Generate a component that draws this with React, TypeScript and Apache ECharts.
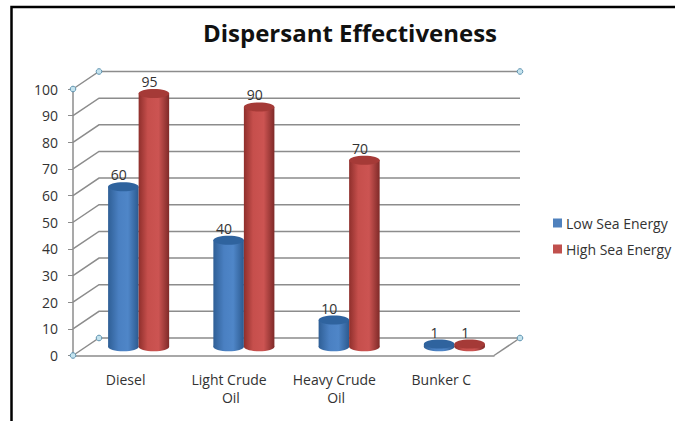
import React, { useEffect, useRef } from "react";
import * as echarts from "echarts";

const categories = ["Diesel", "Light Crude Oil", "Heavy Crude Oil", "Bunker C"];
const lowSeaEnergy = [60, 40, 10, 1];
const highSeaEnergy = [95, 90, 70, 1];
const wallTicks = [0, 10, 20, 30, 40, 50, 60, 70, 80, 90, 100];

const FONT = "'Open Sans', Lato, sans-serif";
const DEPTH_X = 26;
const DEPTH_Y = 17.5;
const AXIS_COLOR = "#8c8c8c";
const TEXT_COLOR = "#333333";

const gradient = (stops: [number, string][]) =>
  new echarts.graphic.LinearGradient(
    0, 0, 1, 0,
    stops.map(([offset, color]) => ({ offset, color }))
  );

// Cylinder standing on the middle of the floor, with its value above the cap.
const cylinder = (side: -1 | 1, body: [number, string][], cap: string) =>
  (_params: any, api: any) => {
    const [cx, topFront] = api.coord([api.value(0), api.value(1)]);
    const [, baseFront] = api.coord([api.value(0), 0]);
    const w = api.size([1, 0])[0] * 0.29;
    const x = cx + DEPTH_X / 2 + (side * w) / 2;
    const top = topFront - DEPTH_Y / 2;
    const base = baseFront - DEPTH_Y / 2;
    const ry = 4.5;
    const fill = gradient(body);
    return {
      type: "group",
      children: [
        { type: "rect", shape: { x: x - w / 2, y: top, width: w, height: base - top }, style: { fill } },
        { type: "ellipse", shape: { cx: x, cy: base, rx: w / 2, ry }, style: { fill } },
        { type: "ellipse", shape: { cx: x, cy: top, rx: w / 2, ry }, style: { fill: cap } },
        {
          type: "text",
          style: {
            x: x - 4.5,
            y: top - 12,
            text: String(api.value(1)),
            font: `14px ${FONT}`,
            fill: TEXT_COLOR,
            align: "center",
            verticalAlign: "middle",
          },
        },
      ],
    };
  };

// Back wall and side wall rules of the 3D box, with the selection handles at its corners.
const wall = (params: any, api: any) => {
  const v = api.value(0);
  const { x, width } = params.coordSys;
  const [, y] = api.coord([0, v]);
  const back = y - DEPTH_Y;
  const lineStyle = { stroke: AXIS_COLOR, lineWidth: 1.5, fill: "none" };
  const children: any[] = [
    {
      type: "polyline",
      shape: { points: [[x, y], [x + DEPTH_X, back], [x + width + DEPTH_X, back]] },
      style: lineStyle,
    },
  ];
  if (v === 0) {
    children.push({
      type: "line",
      shape: { x1: x + width, y1: y, x2: x + width + DEPTH_X, y2: back },
      style: lineStyle,
    });
  }
  if (v === 0 || v === 100) {
    [[x, y], [x + DEPTH_X, back], [x + width + DEPTH_X, back]].forEach(([cx, cy]) =>
      children.push({
        type: "circle",
        shape: { cx, cy, r: 2.8 },
        style: { fill: "#c4e3ee", stroke: "#5f93b0", lineWidth: 1 },
      })
    );
  }
  return { type: "group", children };
};

export default function App() {
  const ref = useRef<HTMLDivElement>(null);

  useEffect(() => {
    const chart = echarts.init(ref.current!, undefined, { renderer: "svg" });
    chart.setOption({
      animation: false,
      backgroundColor: "#ffffff",
      title: {
        text: "Dispersant Effectiveness",
        left: 345,
        top: 15,
        textAlign: "center",
        textStyle: { fontFamily: FONT, fontSize: 24, fontWeight: "bold", color: "#111111" },
      },
      legend: {
        left: 553,
        top: 216,
        padding: 0,
        orient: "vertical",
        icon: "rect",
        itemWidth: 9,
        itemHeight: 9,
        itemGap: 12,
        textStyle: { fontFamily: FONT, fontSize: 14, color: TEXT_COLOR, padding: [0, 0, 0, -1] },
        data: ["Low Sea Energy", "High Sea Energy"],
      },
      grid: { left: 73, top: 89, width: 421, height: 266.5 },
      xAxis: {
        type: "category",
        data: categories,
        axisLine: { lineStyle: { color: AXIS_COLOR, width: 1.5 } },
        axisTick: { length: 4, lineStyle: { color: AXIS_COLOR } },
        axisLabel: {
          fontFamily: FONT,
          fontSize: 14,
          color: TEXT_COLOR,
          margin: 15,
          lineHeight: 18,
          width: 90,
          overflow: "break",
          interval: 0,
        },
      },
      yAxis: {
        type: "value",
        min: 0,
        max: 100,
        interval: 10,
        axisLine: { show: true, lineStyle: { color: AXIS_COLOR, width: 1.5 } },
        axisTick: { show: true, length: 5, lineStyle: { color: AXIS_COLOR } },
        axisLabel: { fontFamily: FONT, fontSize: 14, color: TEXT_COLOR, margin: 15 },
        splitLine: { show: false },
      },
      series: [
        {
          type: "custom",
          silent: true,
          clip: false,
          data: wallTicks.map((v) => [v]),
          encode: { y: 0 },
          renderItem: wall,
          z: 1,
        },
        {
          type: "custom",
          name: "Low Sea Energy",
          clip: false,
          itemStyle: { color: "#4f81bd" },
          data: lowSeaEnergy.map((v, i) => [i, v]),
          encode: { x: 0, y: 1 },
          renderItem: cylinder(-1, [[0, "#2f5f96"], [0.35, "#4a80c2"], [0.65, "#4f86c8"], [1, "#2c5a90"]], "#2f639e"),
          z: 2,
        },
        {
          type: "custom",
          name: "High Sea Energy",
          clip: false,
          itemStyle: { color: "#c0504d" },
          data: highSeaEnergy.map((v, i) => [i, v]),
          encode: { x: 0, y: 1 },
          renderItem: cylinder(1, [[0, "#8f2f2c"], [0.3, "#c64f4c"], [0.65, "#cc5452"], [1, "#7f2a28"]], "#a53a37"),
          z: 3,
        },
      ],
      graphic: [
        // Black outline round the chart, open past the page's right and bottom edges.
        {
          type: "polyline",
          shape: { points: [[11.5, 421], [11.5, 7], [675, 7]] },
          style: { stroke: "#000000", lineWidth: 2.5, fill: "none" },
        },
      ],
    });
    return () => chart.dispose();
  }, []);

  return (
    <div
      ref={ref}
      style={{ position: "fixed", left: 0, top: 0, width: 675, height: 421 }}
    />
  );
}
